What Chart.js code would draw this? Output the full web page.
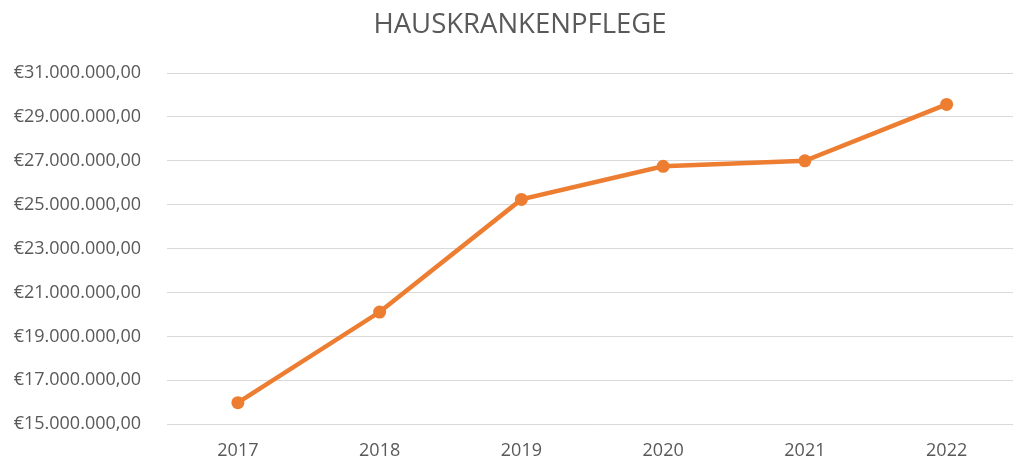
<!DOCTYPE html>
<html>
<head>
<meta charset="utf-8">
<script src="https://cdn.jsdelivr.net/npm/chart.js@4"></script>
<style>
  html, body { margin: 0; padding: 0; background: #fff; overflow: hidden; }
  #wrap { width: 1024px; height: 461px; position: relative; }
</style>
</head>
<body>
<div id="wrap"><canvas id="c" width="1024" height="461"></canvas></div>
<script>
const chartTitle = 'HAUSKRANKENPFLEGE';
const years = ['2017', '2018', '2019', '2020', '2021', '2022'];
const values = [15980000, 20110000, 25240000, 26750000, 27000000, 29570000];
const yMin = 15000000;
const yMax = 31000000;
const yStep = 2000000;

function euro(v) {
  const s = Math.round(v).toString().replace(/\B(?=(\d{3})+(?!\d))/g, '.');
  return '€' + s + ',00';
}

const textColor = '#595959';
const font = "'Open Sans', 'Liberation Sans', sans-serif";

const titlePlugin = {
  id: 'customTitle',
  afterDraw(chart) {
    const ctx = chart.ctx;
    ctx.save();
    ctx.fillStyle = textColor;
    ctx.font = "normal 27.5px " + font;
    ctx.textAlign = 'center';
    ctx.textBaseline = 'middle';
    ctx.fillText(chartTitle, 520, 25);
    ctx.restore();
  }
};

new Chart(document.getElementById('c'), {
  type: 'line',
  data: {
    labels: years,
    datasets: [{
      data: values,
      borderColor: '#ED7D31',
      backgroundColor: '#ED7D31',
      borderWidth: 4.5,
      pointRadius: 6.5,
      pointBorderWidth: 0,
      pointBackgroundColor: '#ED7D31',
      tension: 0,
      fill: false
    }]
  },
  plugins: [titlePlugin],
  options: {
    responsive: false,
    animation: false,
    layout: { padding: { left: 0, right: 0, top: 73, bottom: 0 } },
    plugins: {
      legend: { display: false },
      tooltip: { enabled: false },
      title: { display: false }
    },
    scales: {
      x: {
        offset: true,
        grid: { display: false, drawTicks: false },
        border: { display: false },
        ticks: { color: textColor, font: { family: font, size: 18 }, padding: 16, maxRotation: 0 },
        afterFit: s => { s.height = 35; }
      },
      y: {
        min: yMin,
        max: yMax,
        ticks: {
          stepSize: yStep,
          color: textColor,
          font: { family: font, size: 18 },
          padding: 26,
          callback: v => euro(v)
        },
        grid: { color: '#d9d9d9', lineWidth: 1, drawTicks: false },
        border: { display: false },
        afterFit: s => { s.width = 167; }
      }
    }
  }
});
</script>
</body>
</html>
